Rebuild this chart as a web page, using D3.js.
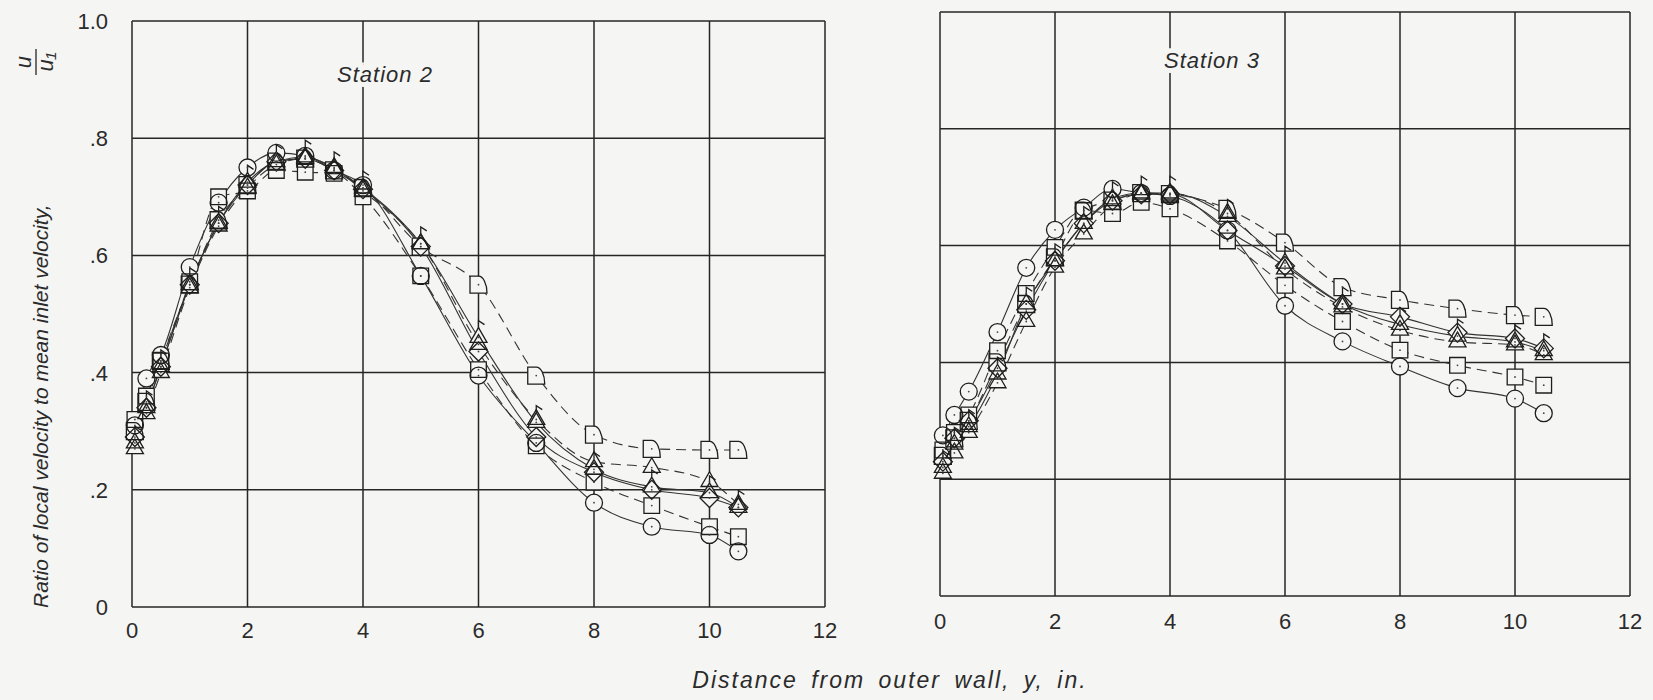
<!DOCTYPE html>
<html>
<head>
<meta charset="utf-8">
<script src="https://cdn.jsdelivr.net/npm/d3@7"></script>
<style>
  html, body { margin: 0; padding: 0; background: #f5f5f3; }
  svg { display: block; }
  text { font-family: "Liberation Sans", "DejaVu Sans", sans-serif; font-style: italic; fill: #2b2b2b; }
</style>
</head>
<body>
<svg id="chart" width="1653" height="700"></svg>
<script>
// ---------------- data ----------------
const stations = ["Station 2", "Station 3"];
const distances = [0.05, 0.25, 0.5, 1, 1.5, 2, 2.5, 3, 3.5, 4, 5, 6, 7, 8, 9, 10, 10.5];
const xTicks = [0, 2, 4, 6, 8, 10, 12];
const yTicks = [0, 0.2, 0.4, 0.6, 0.8, 1.0];
const yTickLabels = ["0", ".2", ".4", ".6", ".8", "1.0"];

// Station 2
const s2Circle   = [0.31, 0.39, 0.43, 0.58, 0.69, 0.75, 0.775, 0.77, 0.745, 0.72, 0.565, 0.395, 0.28, 0.178, 0.137, 0.123, 0.095];
const s2Square   = [0.32, 0.36, 0.42, 0.555, 0.70, 0.71, 0.745, 0.742, 0.74, 0.70, 0.565, 0.405, 0.275, 0.213, 0.173, 0.137, 0.12];
const s2Diamond  = [0.29, 0.34, 0.41, 0.55, 0.655, 0.72, 0.76, 0.765, 0.745, 0.713, 0.615, 0.436, 0.29, 0.23, 0.20, 0.186, 0.17];
const s2Triangle = [0.27, 0.33, 0.40, 0.545, 0.65, 0.715, 0.755, 0.765, 0.75, 0.71, 0.62, 0.448, 0.32, 0.248, 0.238, 0.214, 0.175];
const s2Flag     = [0.28, 0.34, 0.41, 0.55, 0.655, 0.725, 0.76, 0.768, 0.748, 0.715, 0.62, 0.46, 0.315, 0.235, 0.205, 0.195, 0.17];
const s2Quarter  = [0.30, 0.35, 0.42, 0.55, 0.66, 0.72, 0.76, 0.765, 0.745, 0.715, 0.615, 0.55, 0.395, 0.294, 0.27, 0.268, 0.268];

// Station 3
const s3Circle   = [0.275, 0.31, 0.35, 0.452, 0.562, 0.627, 0.665, 0.697, 0.69, 0.685, 0.626, 0.497, 0.436, 0.393, 0.356, 0.338, 0.313];
const s3Square   = [0.25, 0.28, 0.31, 0.42, 0.518, 0.597, 0.66, 0.655, 0.674, 0.663, 0.608, 0.532, 0.47, 0.421, 0.395, 0.375, 0.361];
const s3Diamond  = [0.23, 0.27, 0.30, 0.39, 0.49, 0.574, 0.638, 0.677, 0.688, 0.688, 0.626, 0.565, 0.50, 0.478, 0.451, 0.441, 0.424];
const s3Triangle = [0.21, 0.245, 0.28, 0.365, 0.47, 0.563, 0.62, 0.67, 0.688, 0.688, 0.655, 0.56, 0.495, 0.455, 0.435, 0.43, 0.413];
const s3Flag     = [0.22, 0.26, 0.29, 0.38, 0.50, 0.574, 0.638, 0.68, 0.69, 0.69, 0.65, 0.57, 0.50, 0.465, 0.445, 0.435, 0.42];
const s3Quarter  = [0.24, 0.27, 0.30, 0.40, 0.50, 0.58, 0.66, 0.677, 0.69, 0.688, 0.663, 0.605, 0.529, 0.507, 0.492, 0.481, 0.478];

const symbolNames = ["circle", "square", "diamond", "triangle", "flag", "quarter"];
const lineDashes  = [null, "10,6", null, "10,6", null, "10,6"];

// ---------------- layout ----------------
const svg = d3.select("#chart");
const BG = "#f5f5f3";
const INK = "#262626";

const panels = [
  { name: stations[0], x0: 132, x1: 825, y0: 607, y1: 21,
    series: [s2Circle, s2Square, s2Diamond, s2Triangle, s2Flag, s2Quarter],
    yLabels: true, xLabelY: 630, titleX: 385, titleY: 82 },
  { name: stations[1], x0: 940, x1: 1630, y0: 596, y1: 12,
    series: [s3Circle, s3Square, s3Diamond, s3Triangle, s3Flag, s3Quarter],
    yLabels: false, xLabelY: 621, titleX: 1212, titleY: 68 }
];

function symbolPath(name) {
  switch (name) {
    case "circle": return d3.symbol(d3.symbolCircle, Math.PI * 8.5 * 8.5)();
    case "square": { const s = 7.8; return `M${-s},${-s}h${2*s}v${2*s}h${-2*s}Z`; }
    case "diamond": { const d = 9.5; return `M0,${-d}L${d},0L0,${d}L${-d},0Z`; }
    case "triangle": {
      const a = 17, h = a * Math.sqrt(3) / 2;
      return `M0,${-2*h/3}L${a/2},${h/3}L${-a/2},${h/3}Z`;
    }
    case "flag": {
      const a = 17, h = a * Math.sqrt(3) / 2;
      return `M0,${-2*h/3}L${a/2},${h/3}L${-a/2},${h/3}ZM0,${-2*h/3}L0,${-2*h/3-7}L6,${-2*h/3-3}`;
    }
    case "quarter": {
      const s = 8.5;
      return `M${-s},${s}L${-s},${-s}L0,${-s}A${s},${2*s} 0 0 1 ${s},${s}Z`;
    }
  }
}

panels.forEach(p => {
  const x = d3.scaleLinear().domain([0, 12]).range([p.x0, p.x1]);
  const y = d3.scaleLinear().domain([0, 1]).range([p.y0, p.y1]);
  const g = svg.append("g");

  // grid + frame
  g.append("g").selectAll("line").data(xTicks).join("line")
    .attr("x1", d => x(d)).attr("x2", d => x(d))
    .attr("y1", y(0)).attr("y2", y(1))
    .attr("stroke", INK).attr("stroke-width", 1.5);
  g.append("g").selectAll("line").data(yTicks).join("line")
    .attr("x1", x(0)).attr("x2", x(12))
    .attr("y1", d => y(d)).attr("y2", d => y(d))
    .attr("stroke", INK).attr("stroke-width", 1.5);

  // tick labels
  g.append("g").selectAll("text").data(xTicks).join("text")
    .attr("x", d => x(d)).attr("y", p.xLabelY + 8)
    .attr("text-anchor", "middle").attr("font-size", 22)
    .style("font-style", "normal")
    .text(d => d);
  if (p.yLabels) {
    g.append("g").selectAll("text").data(yTicks).join("text")
      .attr("x", 108).attr("y", d => y(d) + 8)
      .attr("text-anchor", "end").attr("font-size", 22)
      .style("font-style", "normal")
      .text((d, i) => yTickLabels[i]);
  }

  // curves
  const line = d3.line().x(d => x(d[0])).y(d => y(d[1])).curve(d3.curveMonotoneX);
  p.series.forEach((vals, i) => {
    const pts = distances.map((d, j) => [d, vals[j]]);
    g.append("path").attr("d", line(pts))
      .attr("fill", "none").attr("stroke", "#333").attr("stroke-width", 1.1)
      .attr("stroke-dasharray", lineDashes[i]);
  });

  // markers: background knock-out, then outlines, then centre dots
  const allPts = [];
  p.series.forEach((vals, i) => distances.forEach((d, j) => allPts.push({ x: d, y: vals[j], s: symbolNames[i] })));
  g.append("g").selectAll("path").data(allPts).join("path")
    .attr("transform", d => `translate(${x(d.x)},${y(d.y)})`)
    .attr("d", d => symbolPath(d.s)).attr("fill", BG).attr("stroke", "none");
  g.append("g").selectAll("path").data(allPts).join("path")
    .attr("transform", d => `translate(${x(d.x)},${y(d.y)})`)
    .attr("d", d => symbolPath(d.s)).attr("fill", "none")
    .attr("stroke", "#1e1e1e").attr("stroke-width", 1.3);
  g.append("g").selectAll("circle").data(allPts).join("circle")
    .attr("cx", d => x(d.x)).attr("cy", d => y(d.y)).attr("r", 0.9)
    .attr("fill", "#444");

  // station title (knocks out the grid line behind it)
  g.append("text").attr("x", p.titleX).attr("y", p.titleY)
    .attr("text-anchor", "middle").attr("font-size", 22)
    .attr("letter-spacing", 1)
    .attr("stroke", BG).attr("stroke-width", 10).attr("paint-order", "stroke")
    .text(p.name);
});

// axis titles
svg.append("text").attr("x", 890).attr("y", 688)
  .attr("text-anchor", "middle").attr("font-size", 23)
  .attr("letter-spacing", 2).attr("word-spacing", 5)
  .text("Distance from outer wall, y, in.");

const yl = svg.append("g").attr("transform", "translate(48,0) rotate(-90)");
yl.append("text").attr("x", -608).attr("y", 0)
  .attr("text-anchor", "start").attr("font-size", 21)
  .text("Ratio of local velocity to mean inlet velocity,");
const fr = svg.append("g").attr("transform", "translate(36,62) rotate(-90)");
fr.append("text").attr("x", 0).attr("y", -5).attr("text-anchor", "middle").attr("font-size", 22).text("u");
fr.append("line").attr("x1", -13).attr("x2", 13).attr("y1", 0).attr("y2", 0).attr("stroke", INK).attr("stroke-width", 1.3);
fr.append("text").attr("x", 0).attr("y", 17).attr("text-anchor", "middle").attr("font-size", 22).text("u₁");
</script>
</body>
</html>
